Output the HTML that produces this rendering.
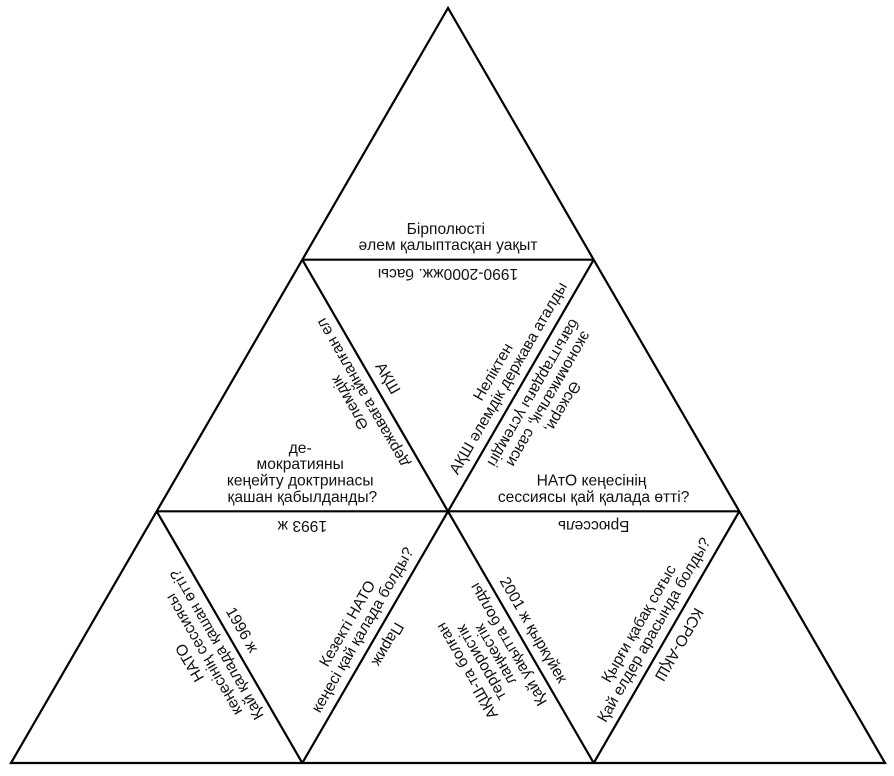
<!DOCTYPE html>
<html>
<head>
<meta charset="utf-8">
<style>
  html, body { margin: 0; padding: 0; background: #fff; }
  svg { display: block; }
  text { font-family: "Liberation Sans", "DejaVu Sans", sans-serif; font-size: 15.6px; fill: #111; }
</style>
</head>
<body>
<svg width="894" height="776" viewBox="0 0 894 776" xmlns="http://www.w3.org/2000/svg">
  <rect x="0" y="0" width="894" height="776" fill="#fff"/>
  <g stroke="#000" stroke-width="2.2" fill="none" stroke-linejoin="miter">
    <polygon points="448,8 11,763 885,763"/>
    <line x1="302.3" y1="259.7" x2="593.7" y2="259.7"/>
    <line x1="156.7" y1="511.3" x2="739.3" y2="511.3"/>
    <line x1="302.3" y1="259.7" x2="593.7" y2="763"/>
    <line x1="593.7" y1="259.7" x2="302.3" y2="763"/>
    <line x1="156.7" y1="511.3" x2="302.3" y2="763"/>
    <line x1="739.3" y1="511.3" x2="593.7" y2="763"/>
  </g>

  <g text-anchor="middle">
    <!-- Top edge L1-R1 -->
    <text transform="translate(448,259.7) rotate(0)">
      <tspan x="0" y="-25.8">Бірполюсті</tspan>
      <tspan x="0" y="-9.5">әлем қалыптасқан уақыт</tspan>
    </text>
    <text transform="translate(448,259.7) rotate(180)">
      <tspan x="0" y="-9.5">1990-2000жж. басы</tspan>
    </text>

    <!-- Edge L2-M2 -->
    <text transform="translate(302.35,511.3) rotate(0)">
      <tspan x="0" y="-58.4">де-</tspan>
      <tspan x="0" y="-42.1">мократияны</tspan>
      <tspan x="0" y="-25.8">кеңейту доктринасы</tspan>
      <tspan x="0" y="-9.5">қашан қабылданды?</tspan>
    </text>
    <text transform="translate(302.35,511.3) rotate(180)">
      <tspan x="0" y="-9.5">1993 ж</tspan>
    </text>

    <!-- Edge M2-R2 -->
    <text transform="translate(593.65,511.3) rotate(0)">
      <tspan x="0" y="-25.8">НАтО кеңесінің</tspan>
      <tspan x="0" y="-9.5">сессиясы қай қалада өтті?</tspan>
    </text>
    <text transform="translate(593.65,511.3) rotate(180)">
      <tspan x="0" y="-9.5">Брюссель</tspan>
    </text>

    <!-- Edge L1-M2 -->
    <text transform="translate(375.15,385.5) rotate(239.94)">
      <tspan x="0" y="-25.8">Әлемдік</tspan>
      <tspan x="0" y="-9.5">державаға айналған ел</tspan>
    </text>
    <text transform="translate(375.15,385.5) rotate(59.94)">
      <tspan x="0" y="-9.5">АҚШ</tspan>
    </text>

    <!-- Edge R1-M2 -->
    <text transform="translate(520.85,385.5) rotate(-59.94)">
      <tspan x="0" y="-25.8">Неліктен</tspan>
      <tspan x="0" y="-9.5">АҚШ әлемдік держава аталды</tspan>
    </text>
    <text transform="translate(520.85,385.5) rotate(120.06)">
      <tspan x="0" y="-42.1">Әскери,</tspan>
      <tspan x="0" y="-25.8">экономикалық, саяси</tspan>
      <tspan x="0" y="-9.5">бағыттардағы үстемдігі</tspan>
    </text>

    <!-- Edge L2-B1 -->
    <text transform="translate(229.5,637.15) rotate(239.94)">
      <tspan x="0" y="-42.1">НАТО</tspan>
      <tspan x="0" y="-25.8">кеңесінің сессиясы</tspan>
      <tspan x="0" y="-9.5">Қай қалада қашан өтті?</tspan>
    </text>
    <text transform="translate(229.5,637.15) rotate(59.94)">
      <tspan x="0" y="-9.5">1996 ж</tspan>
    </text>

    <!-- Edge M2-B1 -->
    <text transform="translate(375.15,637.15) rotate(-59.94)">
      <tspan x="0" y="-25.8">Кезекті НАТО</tspan>
      <tspan x="0" y="-9.5">кеңесі қай қалада болды?</tspan>
    </text>
    <text transform="translate(375.15,637.15) rotate(120.06)">
      <tspan x="0" y="-9.5">Париж</tspan>
    </text>

    <!-- Edge M2-B2 -->
    <text transform="translate(520.85,637.15) rotate(239.94)">
      <tspan x="0" y="-58.4">АҚШ-та болған</tspan>
      <tspan x="0" y="-42.1">террористік</tspan>
      <tspan x="0" y="-25.8">лаңкестік</tspan>
      <tspan x="0" y="-9.5">Қай уақытта болды</tspan>
    </text>
    <text transform="translate(520.85,637.15) rotate(59.94)">
      <tspan x="0" y="-9.5">2001 ж қыркүйек</tspan>
    </text>

    <!-- Edge R2-B2 -->
    <text transform="translate(666.5,637.15) rotate(-59.94)">
      <tspan x="0" y="-25.8">Қырғи қабақ соғыс</tspan>
      <tspan x="0" y="-9.5">Қай елдер арасында болды?</tspan>
    </text>
    <text transform="translate(666.5,637.15) rotate(120.06)">
      <tspan x="0" y="-9.5">КСРО-АҚШ</tspan>
    </text>
  </g>
</svg>
</body>
</html>
